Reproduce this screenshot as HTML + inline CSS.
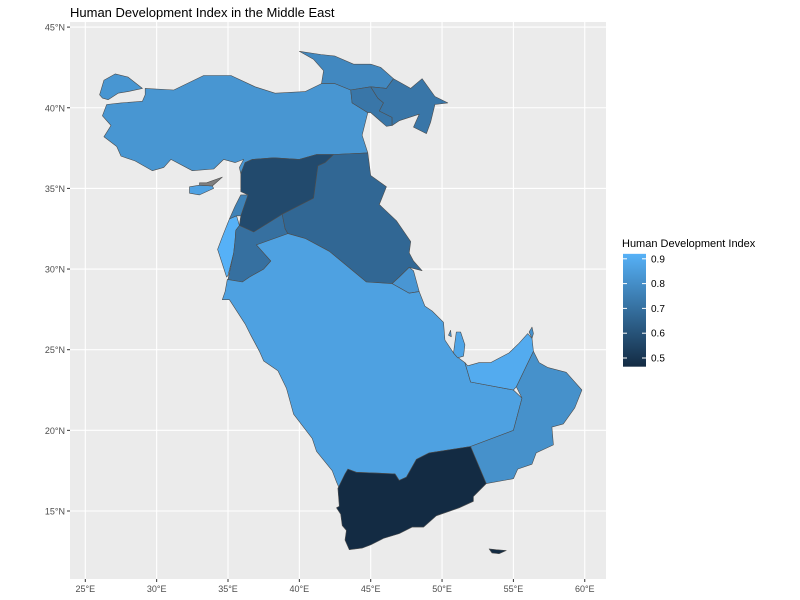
<!DOCTYPE html>
<html><head><meta charset="utf-8"><style>
body{margin:0;background:#fff;}
svg{display:block;font-family:"Liberation Sans",Arial,sans-serif;}
</style></head><body>
<svg id="chart" width="800" height="600" xmlns="http://www.w3.org/2000/svg">
<rect width="800" height="600" fill="#fff"/>
<text x="70" y="17" font-size="13" fill="#000">Human Development Index in the Middle East</text>
<rect id="panel" x="70" y="22" width="536" height="557" fill="#ebebeb"/>
<g id="grid"></g>
<g id="countries"></g>
<g id="axes"></g>
<g id="legend"></g>
</svg>
<script>
const lonTicks=[25,30,35,40,45,50,55,60];
const latTicks=[15,20,25,30,35,40,45];
const legendTicks=[0.5,0.6,0.7,0.8,0.9];
const countryNames=["Turkey","Turkey-Thrace","Cyprus","North-Cyprus","Georgia","Armenia","Azerbaijan","Syria","Lebanon","Israel","Jordan","Iraq","Kuwait","Saudi-Arabia","Yemen","Socotra","Oman","Musandam","UAE","Qatar","Bahrain"];
const hdiValues=[0.827,0.827,0.87,null,0.78,0.72,0.72,0.57,0.76,0.92,0.70,0.67,0.83,0.865,0.465,0.465,0.81,0.81,0.90,0.88,0.83];
const shapes=[
[[29.2,41.2],[31.2,41.1],[33.3,42.0],[35.2,42.0],[36.9,41.3],[38.3,40.9],[40.4,41.0],[41.55,41.5],[42.5,41.5],[43.6,41.1],[43.7,40.3],[44.8,39.7],[44.4,38.3],[44.8,37.2],[42.4,37.1],[41.2,37.1],[40.0,36.8],[38.2,36.9],[36.7,36.8],[36.2,36.6],[35.9,35.9],[35.8,36.3],[36.1,36.8],[35.5,36.6],[34.7,36.8],[34.0,36.2],[32.5,36.1],[31.0,36.8],[30.5,36.3],[29.7,36.1],[28.5,36.7],[27.5,37.0],[27.2,37.6],[26.3,38.2],[26.8,38.9],[26.2,39.5],[26.5,40.2],[27.5,40.3],[29.0,40.4],[29.2,40.8]],
[[26.0,40.8],[26.3,41.7],[27.1,42.1],[28.0,41.9],[29.0,41.2],[28.0,41.0],[27.3,40.9],[26.6,40.5],[26.2,40.6]],
[[32.3,34.7],[33.0,34.6],[34.0,35.0],[33.9,35.15],[33.0,35.2],[32.3,35.1]],
[[33.0,35.2],[33.9,35.15],[34.6,35.7],[33.5,35.35],[33.0,35.35]],
[[40.0,43.5],[41.5,43.3],[42.5,43.2],[43.8,42.7],[45.0,42.7],[45.7,42.5],[46.6,41.8],[46.1,41.2],[45.0,41.3],[43.6,41.1],[42.5,41.5],[41.55,41.5],[41.7,42.3],[41.0,43.0]],
[[43.6,41.1],[45.0,41.3],[45.5,40.6],[45.9,40.3],[45.6,39.8],[46.5,39.4],[46.5,38.9],[46.1,38.85],[45.0,39.7],[44.8,39.7],[43.7,40.3]],
[[45.0,41.3],[46.1,41.2],[46.6,41.8],[47.8,41.2],[48.6,41.8],[49.5,40.7],[50.4,40.3],[49.5,40.2],[49.2,39.1],[48.9,38.4],[48.0,38.8],[48.4,39.6],[47.0,39.2],[46.5,38.9],[46.5,39.4],[45.6,39.8],[45.9,40.3],[45.5,40.6]],
[[35.9,35.9],[36.2,36.6],[36.7,36.8],[38.2,36.9],[40.0,36.8],[41.2,37.1],[42.4,37.1],[41.8,36.6],[41.3,36.4],[41.0,34.4],[38.8,33.4],[36.8,32.3],[35.8,32.7],[35.9,33.3],[36.4,34.6],[35.9,34.8]],
[[35.1,33.1],[35.5,33.9],[35.9,34.6],[36.4,34.6],[35.9,33.3],[35.6,33.3]],
[[34.27,31.22],[34.9,29.5],[35.0,29.6],[35.4,31.0],[35.5,31.8],[35.55,32.4],[35.8,32.7],[35.6,33.3],[35.1,33.1],[34.6,32.0]],
[[35.0,29.35],[36.0,29.2],[36.5,29.5],[37.5,30.0],[38.0,30.5],[37.0,31.5],[39.2,32.2],[39.0,32.5],[38.8,33.4],[36.8,32.3],[35.8,32.7],[35.55,32.4],[35.5,31.8],[35.4,31.0]],
[[38.8,33.4],[41.0,34.4],[41.3,36.4],[41.8,36.6],[42.4,37.1],[44.8,37.2],[45.0,35.8],[46.1,35.1],[45.6,34.0],[46.8,33.0],[47.8,31.7],[47.7,31.0],[48.0,30.5],[48.6,29.9],[47.7,30.1],[47.0,29.5],[46.5,29.1],[44.7,29.2],[42.1,31.1],[40.4,31.9],[39.2,32.2],[39.0,32.5]],
[[47.7,30.1],[48.0,29.9],[48.4,28.6],[47.7,28.5],[46.5,29.1],[47.0,29.5]],
[[34.95,29.36],[36.0,29.2],[36.5,29.5],[37.5,30.0],[38.0,30.5],[37.0,31.5],[39.2,32.2],[40.4,31.9],[42.1,31.1],[44.7,29.2],[46.5,29.1],[47.7,28.5],[48.4,28.6],[48.8,27.7],[49.3,27.4],[50.1,26.7],[50.2,25.6],[50.8,24.8],[51.0,24.6],[51.6,24.2],[52.0,23.0],[55.0,22.5],[55.6,22.0],[55.0,20.0],[52.0,19.0],[49.1,18.6],[48.2,18.2],[47.5,17.1],[47.0,16.9],[46.7,17.3],[44.0,17.4],[43.4,17.6],[43.1,17.1],[42.8,16.4],[42.6,16.8],[42.3,17.5],[41.2,18.7],[40.9,19.5],[39.6,21.0],[39.1,22.6],[38.5,23.7],[37.5,24.3],[37.2,24.9],[36.6,25.9],[36.2,26.6],[35.1,28.1],[34.6,28.1],[34.8,28.6]],
[[42.7,16.4],[43.2,17.3],[43.4,17.6],[44.0,17.4],[46.7,17.3],[47.0,16.9],[47.5,17.1],[48.2,18.2],[49.1,18.6],[52.0,19.0],[53.1,16.7],[52.2,15.9],[52.2,15.6],[51.2,15.2],[49.6,14.7],[48.7,14.0],[47.9,14.0],[47.0,13.6],[45.9,13.3],[45.0,12.9],[44.4,12.7],[43.5,12.6],[43.2,13.2],[43.3,13.8],[43.0,14.1],[42.9,14.8],[42.6,15.2],[42.8,15.3]],
[[53.3,12.65],[53.8,12.6],[54.5,12.55],[54.0,12.35],[53.5,12.4]],
[[52.0,19.0],[55.0,20.0],[55.6,22.0],[55.2,22.7],[56.4,24.9],[56.8,24.2],[57.4,23.9],[58.7,23.6],[59.8,22.5],[59.3,21.4],[58.5,20.4],[57.7,20.2],[57.8,19.1],[56.6,18.6],[56.3,17.9],[55.3,17.6],[55.0,17.0],[53.1,16.7]],
[[56.1,26.1],[56.3,26.4],[56.4,26.0],[56.3,25.7]],
[[51.6,24.2],[52.0,23.0],[55.0,22.5],[55.2,22.7],[56.4,24.9],[56.3,25.7],[56.0,26.0],[55.4,25.4],[54.7,24.8],[53.4,24.2],[52.6,24.2],[51.8,24.0]],
[[50.8,24.8],[51.0,26.1],[51.3,26.1],[51.6,25.3],[51.5,24.6],[51.1,24.5]],
[[50.45,25.9],[50.6,26.2],[50.65,25.8]]
];
const NS="http://www.w3.org/2000/svg";
const X=lon=>85.3+(lon-25)*14.27;
const Y=lat=>511-(lat-15)*16.13;
const vals=hdiValues.filter(v=>v!==null);
const vmin=Math.min(...vals), vmax=Math.max(...vals);
const lo=[19,43,67], hi=[86,177,247];
function col(v){if(v===null)return "#7f7f7f";const t=(v-vmin)/(vmax-vmin);const c=lo.map((a,i)=>Math.round(a+(hi[i]-a)*t));return `rgb(${c.join(",")})`;}
function mk(tag,attrs,parent){const e=document.createElementNS(NS,tag);for(const k in attrs)e.setAttribute(k,attrs[k]);parent.appendChild(e);return e;}
const grid=document.getElementById('grid'),axes=document.getElementById('axes');
lonTicks.forEach(t=>{
  const l=mk('line',{x1:X(t),x2:X(t),y1:22,y2:579,stroke:'#fff','stroke-width':1.1},grid);
  
  
  const tk=mk('line',{x1:X(t),x2:X(t),y1:579,y2:582,stroke:'#333','stroke-width':1},axes);
  
  
  const tx=mk('text',{x:X(t),y:592,'font-size':9,fill:'#4d4d4d','text-anchor':'middle'},axes);
  tx.textContent=t+'°E';
  
  
});
latTicks.forEach(t=>{
  const l=mk('line',{x1:70,x2:606,y1:Y(t),y2:Y(t),stroke:'#fff','stroke-width':1.1},grid);
  
  
  const tk=mk('line',{x1:67,x2:70,y1:Y(t),y2:Y(t),stroke:'#333','stroke-width':1},axes);
  
  
  const tx=mk('text',{x:65,y:Y(t)+3.5,'font-size':9,fill:'#4d4d4d','text-anchor':'end'},axes);
  tx.textContent=t+'°N';
  
  
});
const cg=document.getElementById('countries');
shapes.forEach((s,i)=>{
  const p=mk('polygon',{points:s.map(q=>X(q[0]).toFixed(1)+','+Y(q[1]).toFixed(1)).join(' '),fill:col(hdiValues[i]),stroke:'#4d4d4d','stroke-width':0.6,'stroke-linejoin':'round'},cg);
  
  
});
const lg=document.getElementById('legend');
const LY=v=>358-(v-0.5)*248;
const lt=mk('text',{x:622,y:247,'font-size':11,fill:'#000'},lg);
lt.textContent='Human Development Index';


const defs=mk('defs',{},lg);
const gr=mk('linearGradient',{id:'lgGrad',x1:0,y1:1,x2:0,y2:0},defs);
mk('stop',{offset:0,'stop-color':col(vmin)},gr);
mk('stop',{offset:1,'stop-color':col(vmax)},gr);
const bar=mk('rect',{x:623,y:LY(vmax),width:23,height:LY(vmin)-LY(vmax),fill:'url(#lgGrad)'},lg);


legendTicks.forEach(v=>{
  mk('line',{x1:623,x2:627,y1:LY(v),y2:LY(v),stroke:'#fff','stroke-width':1},lg);
  mk('line',{x1:642,x2:646,y1:LY(v),y2:LY(v),stroke:'#fff','stroke-width':1},lg);
  const t=mk('text',{x:651,y:LY(v)+3.5,'font-size':10,fill:'#000'},lg);
  t.textContent=v.toFixed(1);
  
  
});
</script>
</body></html>
